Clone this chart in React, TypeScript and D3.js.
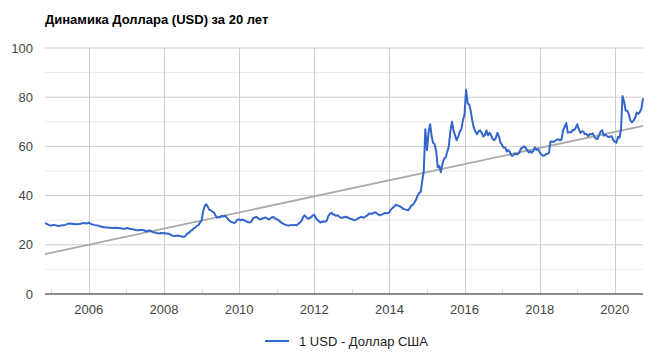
import React from 'react';
import * as d3 from 'd3';

// semi-monthly readings (1st and 16th of each month), RUB per 1 USD
const usd2004 = [28.8, 28.6, 28.2, 27.9]; // from November
const usd2005 = [27.8, 28.0, 28.0, 27.9, 27.7, 27.6, 27.8, 27.9, 27.9, 28.1, 28.4, 28.6, 28.7, 28.6, 28.5, 28.5, 28.4, 28.4, 28.5, 28.6, 28.8, 28.9, 28.8, 28.7];
const usd2006 = [29.0, 28.6, 28.3, 28.2, 28.0, 27.9, 27.8, 27.6, 27.3, 27.2, 27.1, 27.0, 27.0, 26.9, 26.9, 26.8, 26.9, 26.8, 26.9, 26.8, 26.7, 26.6, 26.5, 26.5];
const usd2007 = [26.8, 26.7, 26.5, 26.4, 26.3, 26.2, 26.0, 25.9, 25.9, 26.0, 26.0, 25.9, 25.7, 25.5, 25.7, 25.8, 25.5, 25.1, 25.0, 24.9, 24.7, 24.6, 24.8, 24.7];
const usd2008 = [24.8, 24.6, 24.6, 24.5, 24.2, 23.8, 23.7, 23.6, 23.7, 23.8, 23.6, 23.5, 23.3, 23.3, 23.8, 24.6, 24.9, 25.6, 26.0, 26.7, 27.0, 27.7, 27.9, 29.0];
const usd2009 = [29.8, 33.5, 35.8, 36.5, 35.6, 34.3, 34.0, 33.4, 33.2, 32.0, 31.0, 31.3, 31.2, 31.8, 31.5, 31.8, 31.2, 30.4, 29.8, 29.3, 29.1, 28.8, 29.4, 30.3];
const usd2010 = [30.3, 29.9, 30.3, 30.0, 29.8, 29.4, 29.2, 29.1, 29.4, 30.8, 31.1, 31.3, 31.0, 30.4, 30.4, 30.7, 30.9, 31.1, 30.7, 30.3, 30.7, 31.2, 31.3, 30.7];
const usd2011 = [30.5, 30.0, 29.6, 29.0, 28.7, 28.3, 28.1, 27.9, 27.8, 28.0, 28.1, 27.9, 28.1, 27.9, 28.6, 29.1, 29.8, 31.3, 32.0, 31.2, 30.6, 30.9, 31.2, 31.9];
const usd2012 = [32.2, 30.9, 30.2, 29.6, 29.0, 29.4, 29.5, 29.4, 29.7, 31.6, 32.6, 33.0, 32.4, 32.2, 31.8, 32.0, 31.4, 31.0, 31.0, 31.2, 31.4, 31.2, 30.9, 30.6];
const usd2013 = [30.5, 30.1, 30.0, 30.3, 30.7, 31.0, 31.4, 31.1, 31.1, 31.6, 32.0, 32.7, 32.6, 32.6, 33.0, 33.2, 32.8, 32.3, 32.0, 32.3, 32.6, 32.9, 32.8, 32.9];
const usd2014 = [33.2, 34.4, 35.0, 35.5, 36.2, 36.1, 35.8, 35.6, 35.1, 34.6, 34.4, 34.2, 34.0, 34.8, 36.0, 36.2, 37.2, 38.3, 39.9, 41.0, 41.5, 46.0, 50.0, 67.0];
const usd2015 = [58.5, 65.5, 69.0, 64.0, 61.5, 61.0, 58.0, 51.5, 52.0, 49.5, 53.0, 55.0, 55.5, 57.5, 60.0, 66.0, 70.0, 66.5, 64.5, 62.5, 64.0, 66.0, 67.0, 70.5];
const usd2016 = [73.0, 83.0, 77.5, 77.0, 74.5, 70.5, 67.5, 66.0, 65.0, 66.0, 66.5, 65.5, 64.0, 64.5, 66.5, 64.5, 65.5, 64.5, 63.0, 62.5, 63.5, 65.5, 64.0, 61.5];
const usd2017 = [60.5, 59.5, 59.5, 57.9, 58.5, 57.8, 56.3, 56.2, 57.0, 56.8, 56.8, 57.5, 59.0, 59.5, 60.0, 59.5, 58.5, 57.5, 58.0, 57.4, 58.3, 59.6, 58.6, 58.8];
const usd2018 = [57.6, 56.8, 56.2, 56.3, 56.8, 57.0, 57.3, 62.0, 62.0, 61.8, 62.3, 62.8, 62.8, 62.5, 62.8, 66.5, 68.0, 69.5, 65.6, 65.8, 65.7, 66.7, 66.6, 67.5];
const usd2019 = [69.0, 67.0, 65.5, 66.2, 66.0, 65.0, 65.0, 64.2, 65.0, 64.9, 65.3, 64.0, 63.2, 63.0, 64.5, 66.0, 66.5, 64.3, 64.8, 64.2, 63.8, 64.0, 64.1, 62.6];
const usd2020 = [61.9, 61.5, 63.9, 63.5, 66.9, 80.5, 78.0, 74.5, 74.5, 73.0, 70.5, 69.8, 70.5, 71.5, 73.8, 73.2, 74.0, 75.5, 79.5];

const yearSeries: [number, number, number[]][] = [
  [2004, 10, usd2004], [2005, 0, usd2005], [2006, 0, usd2006], [2007, 0, usd2007],
  [2008, 0, usd2008], [2009, 0, usd2009], [2010, 0, usd2010], [2011, 0, usd2011],
  [2012, 0, usd2012], [2013, 0, usd2013], [2014, 0, usd2014], [2015, 0, usd2015],
  [2016, 0, usd2016], [2017, 0, usd2017], [2018, 0, usd2018], [2019, 0, usd2019],
  [2020, 0, usd2020],
];

const yTicks = [0, 20, 40, 60, 80, 100];
const yMinorTicks = [10, 30, 50, 70, 90];
const xTickYears = [2006, 2008, 2010, 2012, 2014, 2016, 2018, 2020];
const xMinorYears = [2005, 2007, 2009, 2011, 2013, 2015, 2017, 2019];

const title = 'Динамика Доллара (USD) за 20 лет';
const seriesName = '1 USD - Доллар США';

type Pt = { date: Date; value: number };

const data: Pt[] = yearSeries.flatMap(([year, startMonth, vals]) =>
  vals.map((v, i) => ({
    date: new Date(year, startMonth + Math.floor(i / 2), i % 2 ? 16 : 1),
    value: v,
  }))
);

const App: React.FC = () => {
  const width = 655;
  const height = 361;
  const margin = { left: 45, right: 12, top: 48, bottom: 67 };
  const font = 'Arial, "Liberation Sans", sans-serif';

  const x = d3.scaleTime()
    .domain(d3.extent(data, d => d.date) as [Date, Date])
    .range([margin.left, width - margin.right]);
  const y = d3.scaleLinear()
    .domain([0, 100])
    .range([height - margin.bottom, margin.top]);

  const line = d3.line<Pt>()
    .x(d => x(d.date))
    .y(d => y(d.value));

  // least squares trend line
  const xs = data.map(d => +d.date);
  const ys = data.map(d => d.value);
  const mx = d3.mean(xs)!;
  const my = d3.mean(ys)!;
  const slope = d3.sum(xs, (v, i) => (v - mx) * (ys[i] - my)) / d3.sum(xs, v => (v - mx) ** 2);
  const [d0, d1] = x.domain();
  const trend = [d0, d1].map(d => ({ date: d, value: my + slope * (+d - mx) }));

  const x0 = margin.left;
  const x1 = width - margin.right;
  const yBase = y(0);

  return (
    <svg width={width} height={height} style={{ position: 'absolute', left: 0, top: 0, background: '#fff' }}>
      <text x={45} y={24} fontFamily={font} fontSize={13} fontWeight="bold" fill="#000">{title}</text>

      {/* horizontal gridlines */}
      {yMinorTicks.map(t => (
        <line key={'m' + t} x1={x0} x2={x1} y1={y(t)} y2={y(t)} stroke="#ebebeb" strokeWidth={1} />
      ))}
      {yTicks.map(t => (
        <line key={'g' + t} x1={x0} x2={x1} y1={y(t)} y2={y(t)} stroke="#cccccc" strokeWidth={1} />
      ))}
      {xTickYears.map(yr => {
        const px = Math.round(x(new Date(yr, 0, 1))) + 0.5;
        return <line key={'v' + yr} x1={px} x2={px} y1={margin.top} y2={yBase} stroke="#cccccc" strokeWidth={1} />;
      })}
      {xMinorYears.map(yr => {
        const px = Math.round(x(new Date(yr, 0, 1))) + 0.5;
        return <line key={'mv' + yr} x1={px} x2={px} y1={yBase - 5} y2={yBase} stroke="#dddddd" strokeWidth={1} />;
      })}

      {/* y labels */}
      {yTicks.map(t => (
        <text key={'yl' + t} x={33} y={y(t)} dy="0.35em" textAnchor="end" fontFamily={font} fontSize={13} fill="#444">{t}</text>
      ))}

      {/* trend */}
      <path d={line(trend)!} fill="none" stroke="#aaaaaa" strokeWidth={1.8} />

      {/* series */}
      <path d={line(data)!} fill="none" stroke="#3366cc" strokeWidth={2} strokeLinejoin="round" />

      {/* x axis */}
      <line x1={x0} x2={x1} y1={yBase} y2={yBase} stroke="#333" strokeWidth={1.2} />
      {xTickYears.map(yr => (
        <text key={'xl' + yr} x={x(new Date(yr, 0, 1))} y={314} textAnchor="middle" fontFamily={font} fontSize={13} fill="#444">{yr}</text>
      ))}

      {/* legend */}
      <line x1={265} x2={289} y1={341} y2={341} stroke="#3366cc" strokeWidth={2} />
      <text x={299} y={345.5} fontFamily={font} fontSize={13} fill="#222">{seriesName}</text>
    </svg>
  );
};

export default App;
